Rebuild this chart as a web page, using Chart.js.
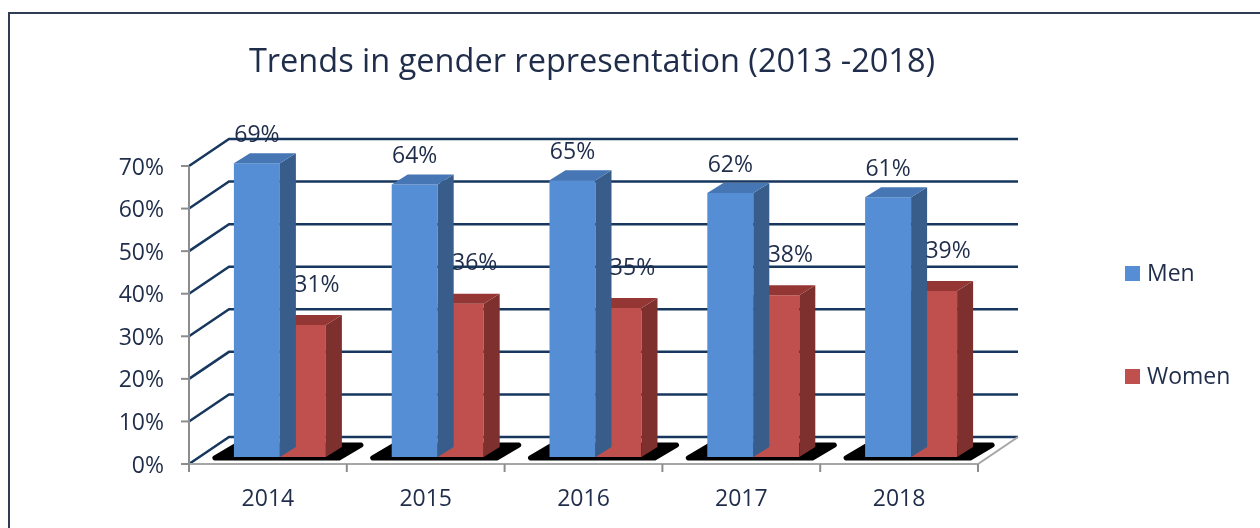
<!DOCTYPE html>
<html lang="en">
<head>
    <meta charset="UTF-8">
    <title>Trends in gender representation (2013 -2018)</title>
    <style>
        html, body { margin: 0; padding: 0; background: #fff; }
        .chart-container { width: 1260px; height: 528px; }
    </style>
</head>
<body>
    <div class="chart-container">
        <canvas id="genderChart" width="1260" height="528"></canvas>
    </div>

    <script src="https://cdn.jsdelivr.net/npm/chart.js"></script>
    <script>
        const years = ['2014', '2015', '2016', '2017', '2018'];
        const men = [69, 64, 65, 62, 61];
        const women = [31, 36, 35, 38, 39];
        const yTicks = [0, 10, 20, 30, 40, 50, 60, 70];
        const seriesNames = ['Men', 'Women'];

        const FONT = '"Open Sans", "Noto Sans", sans-serif';
        const TEXT = '#1f2d4a';
        const GRID = '#17375e';
        const EDGE = '#a6a6a6';

        // depth offsets (front plane / back wall, relative to the bar plane)
        const FRONT = { dx: -12, dy: 7 };
        const BACK = { dx: 28, dy: -20 };
        const BAR_DEPTH = { dx: 16, dy: -10 };

        const faces = [
            { front: '#558ed5', side: '#385d8a', top: '#4676b4' },
            { front: '#c0504d', side: '#7d302e', top: '#943634' }
        ];

        function poly(ctx, pts, fill) {
            ctx.beginPath();
            ctx.moveTo(pts[0][0], pts[0][1]);
            for (let i = 1; i < pts.length; i++) ctx.lineTo(pts[i][0], pts[i][1]);
            ctx.closePath();
            ctx.fillStyle = fill;
            ctx.fill();
        }

        const box3d = {
            id: 'box3d',
            beforeDatasetsDraw(chart) {
                const ctx = chart.ctx;
                const { left, right } = chart.chartArea;
                const y = chart.scales.y;
                const x = chart.scales.x;
                ctx.save();

                // back wall gridlines + left wall diagonals
                ctx.strokeStyle = GRID;
                ctx.lineWidth = 2.5;
                yTicks.forEach(v => {
                    const py = y.getPixelForValue(v);
                    ctx.beginPath();
                    ctx.moveTo(left + FRONT.dx, py + FRONT.dy);
                    ctx.lineTo(left + BACK.dx, py + BACK.dy);
                    ctx.lineTo(right + BACK.dx, py + BACK.dy);
                    ctx.stroke();
                });

                // floor outline
                const b = y.getPixelForValue(0);
                ctx.strokeStyle = EDGE;
                ctx.lineWidth = 2;
                ctx.beginPath();
                ctx.moveTo(left + FRONT.dx, b + FRONT.dy);
                ctx.lineTo(right + FRONT.dx, b + FRONT.dy);
                ctx.lineTo(right + BACK.dx, b + BACK.dy);
                ctx.stroke();

                // y axis on the front plane
                ctx.strokeStyle = '#8c8c8c';
                ctx.beginPath();
                ctx.moveTo(left + FRONT.dx, y.getPixelForValue(70) + FRONT.dy);
                ctx.lineTo(left + FRONT.dx, b + FRONT.dy);
                ctx.stroke();
                ctx.fillStyle = TEXT;
                ctx.font = '23px ' + FONT;
                ctx.textAlign = 'right';
                ctx.textBaseline = 'middle';
                yTicks.forEach(v => {
                    const py = y.getPixelForValue(v) + FRONT.dy;
                    ctx.beginPath();
                    ctx.moveTo(left + FRONT.dx - 8, py);
                    ctx.lineTo(left + FRONT.dx, py);
                    ctx.stroke();
                    ctx.fillText(v + '%', left + FRONT.dx - 25, py + 2);
                });

                // x axis ticks and labels
                const step = (right - left) / years.length;
                for (let i = 0; i <= years.length; i++) {
                    const px = left + FRONT.dx + i * step;
                    ctx.beginPath();
                    ctx.moveTo(px, b + FRONT.dy);
                    ctx.lineTo(px, b + FRONT.dy + 8);
                    ctx.stroke();
                }
                ctx.textAlign = 'center';
                years.forEach((yr, i) => {
                    ctx.fillText(yr, x.getPixelForValue(i) + FRONT.dx, 499);
                });

                // black floor shadows under each pair of bars
                const m0 = chart.getDatasetMeta(0).data;
                const m1 = chart.getDatasetMeta(1).data;
                ctx.fillStyle = '#000';
                ctx.strokeStyle = '#000';
                ctx.lineJoin = 'round';
                ctx.lineWidth = 5;
                m0.forEach((bar, i) => {
                    const L = bar.x - bar.width / 2;
                    const R = m1[i].x + m1[i].width / 2;
                    ctx.beginPath();
                    ctx.moveTo(L - 19, b + 1);
                    ctx.lineTo(R + 13, b + 1);
                    ctx.lineTo(R + 35, b - 12);
                    ctx.lineTo(L + 3, b - 12);
                    ctx.closePath();
                    ctx.fill();
                    ctx.stroke();
                });
                ctx.restore();
            },
            afterDatasetDraw(chart, args) {
                const ctx = chart.ctx;
                const f = faces[args.index];
                ctx.save();
                args.meta.data.forEach(bar => {
                    const l = bar.x - bar.width / 2;
                    const r = bar.x + bar.width / 2;
                    const t = bar.y;
                    const b = bar.base;
                    const dx = BAR_DEPTH.dx, dy = BAR_DEPTH.dy;
                    poly(ctx, [[r, t], [r + dx, t + dy], [r + dx, b + dy], [r, b]], f.side);
                    poly(ctx, [[l, t], [l + dx, t + dy], [r + dx, t + dy], [r, t]], f.top);
                });
                ctx.restore();
            },
            afterDatasetsDraw(chart) {
                const ctx = chart.ctx;
                ctx.save();
                ctx.fillStyle = TEXT;
                ctx.font = '23px ' + FONT;
                ctx.textAlign = 'center';
                ctx.textBaseline = 'middle';
                chart.getDatasetMeta(0).data.forEach((bar, i) => {
                    ctx.fillText(men[i] + '%', bar.x, bar.y - 28);
                });
                chart.getDatasetMeta(1).data.forEach((bar, i) => {
                    ctx.fillText(women[i] + '%', bar.x + 14, bar.y - 40);
                });

                // title
                ctx.font = '32.5px ' + FONT;
                ctx.fillText('Trends in gender representation (2013 -2018)', 592, 63);

                // legend
                ctx.textAlign = 'left';
                ctx.font = '23px ' + FONT;
                [[seriesNames[0], faces[0].front, 266], [seriesNames[1], faces[1].front, 369]].forEach(([name, col, top]) => {
                    ctx.fillStyle = col;
                    ctx.fillRect(1125, top, 15, 15);
                    ctx.fillStyle = TEXT;
                    ctx.fillText(name, 1147, top + 8);
                });

                // outer frame
                ctx.strokeStyle = '#2e3d54';
                ctx.lineWidth = 2;
                ctx.beginPath();
                ctx.moveTo(9, 528);
                ctx.lineTo(9, 13);
                ctx.lineTo(1260, 13);
                ctx.stroke();
                ctx.restore();
            }
        };

        const ctx = document.getElementById('genderChart').getContext('2d');
        const genderChart = new Chart(ctx, {
            type: 'bar',
            data: {
                labels: years,
                datasets: [
                    { label: seriesNames[0], data: men, backgroundColor: faces[0].front },
                    { label: seriesNames[1], data: women, backgroundColor: faces[1].front }
                ]
            },
            options: {
                responsive: false,
                animation: false,
                layout: { padding: { left: 201, right: 270, top: 159, bottom: 71 } },
                datasets: { bar: { barPercentage: 1, categoryPercentage: 0.583 } },
                scales: {
                    x: { display: false },
                    y: { display: false, min: 0, max: 70 }
                },
                plugins: {
                    legend: { display: false },
                    tooltip: { enabled: false }
                }
            },
            plugins: [box3d]
        });
    </script>
</body>
</html>
